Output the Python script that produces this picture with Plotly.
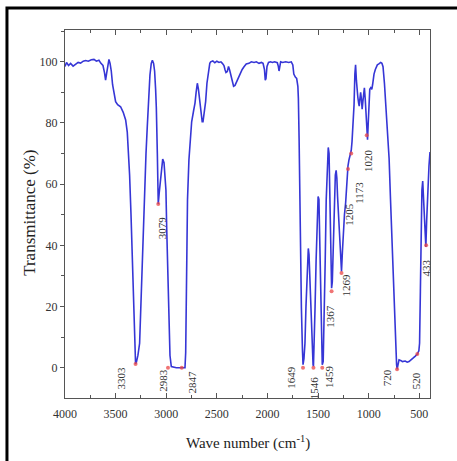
import plotly.graph_objects as go

# ---- data ----
wavenumber = [
    4000, 3985, 3965, 3945, 3920, 3895, 3870, 3846, 3820, 3796, 3770, 3740, 3714, 3690, 3665, 3645,
    3625, 3610, 3599, 3590, 3582, 3566, 3555, 3543, 3530, 3515, 3500, 3480, 3451, 3425, 3401, 3385,
    3370, 3362, 3348, 3335, 3320, 3312, 3303, 3295, 3280, 3263, 3250, 3236, 3225, 3213, 3200, 3187,
    3174, 3161, 3148, 3137, 3125, 3115, 3105, 3098, 3088, 3079, 3070, 3055, 3045, 3035, 3022, 3010,
    3003, 2995, 2989, 2975, 2963, 2950, 2900, 2850, 2815, 2808, 2800, 2790, 2776, 2762, 2749, 2730,
    2716, 2705, 2693, 2682, 2670, 2655, 2645, 2637, 2625, 2611, 2598, 2585, 2570, 2561, 2540, 2520,
    2500, 2479, 2460, 2446, 2430, 2420, 2410, 2397, 2385, 2374, 2360, 2347, 2335, 2321, 2305, 2290,
    2270, 2250, 2232, 2210, 2183, 2160, 2133, 2110, 2084, 2060, 2044, 2030, 2022, 2015, 2005, 1990,
    1970, 1952, 1930, 1903, 1893, 1886, 1878, 1870, 1850, 1820, 1790, 1765, 1750, 1740, 1725, 1712,
    1700, 1695, 1688, 1682, 1672, 1665, 1655, 1649, 1640, 1630, 1620, 1606, 1597, 1590, 1580, 1573,
    1562, 1550, 1546, 1538, 1530, 1520, 1510, 1500, 1492, 1485, 1475, 1465, 1459, 1450, 1440, 1430,
    1420, 1410, 1400, 1392, 1385, 1378, 1370, 1367, 1360, 1350, 1340, 1330, 1322, 1315, 1308, 1300,
    1290, 1280, 1269, 1260, 1250, 1240, 1228, 1220, 1210, 1205, 1195, 1185, 1178, 1173, 1165, 1155,
    1145, 1137, 1130, 1122, 1115, 1108, 1100, 1094, 1087, 1080, 1073, 1065, 1058, 1050, 1043, 1035,
    1028, 1020, 1012, 1005, 998, 990, 980, 970, 962, 955, 948, 935, 915, 900, 882, 870,
    859, 845, 832, 815, 799, 785, 766, 750, 740, 733, 725, 720, 712, 701, 680, 668,
    640, 620, 602, 580, 560, 540, 520, 505, 498, 490, 482, 475, 467, 460, 452, 444,
    436, 428, 418, 405, 395,
]
transmittance = [
    98.5, 99.8, 98.8, 99.5, 98.6, 99.2, 99.8, 99.6, 100.2, 100.4, 100.2, 100.7, 100.8, 100.2, 100.5, 99.5,
    98.8, 96.5, 94.0, 96.0, 98.0, 100.8, 99.5, 97.0, 92.5, 89.0, 87.0, 86.0, 85.3, 83.5, 81.0, 77.0,
    68.0, 63.0, 50.0, 36.0, 18.0, 8.5, 1.2, 1.8, 4.0, 8.0, 22.0, 35.0, 48.0, 60.0, 70.0, 79.0,
    88.0, 95.7, 99.5, 100.5, 99.5, 97.0, 91.0, 85.0, 70.0, 53.5, 57.0, 63.0, 67.0, 68.2, 67.0, 62.0,
    58.0, 45.0, 36.0, 15.0, 4.0, 0.4, 0.0, 0.0, 0.0, 5.0, 30.0, 55.0, 68.0, 76.0, 80.4, 84.0,
    86.5, 90.0, 93.0, 91.0, 87.0, 82.0, 80.4, 80.4, 83.0, 87.0, 93.0, 97.0, 99.5, 100.0, 100.3, 99.7,
    100.2, 99.8, 100.0, 99.5, 98.8, 97.5, 96.5, 96.8, 98.5, 97.3, 95.5, 93.5, 92.0, 92.3, 93.5, 94.8,
    96.0, 97.5, 98.4, 99.3, 99.5, 100.0, 99.8, 100.0, 99.5, 99.8, 99.5, 97.5, 94.0, 94.5, 98.5, 99.8,
    100.0, 99.8, 100.0, 99.7, 98.5, 97.0, 98.5, 100.0, 99.8, 100.0, 99.8, 100.0, 99.0, 96.0, 95.0, 94.6,
    92.0, 88.0, 75.0, 57.5, 35.0, 19.4, 6.0, 1.0, 3.0, 8.0, 20.0, 36.0, 39.0, 37.0, 28.0, 20.0,
    8.0, 1.0, 0.5, 8.0, 20.0, 35.0, 48.0, 56.0, 55.0, 45.0, 28.0, 12.0, 1.0, 2.0, 15.0, 35.0,
    55.0, 68.0, 72.0, 70.0, 60.0, 48.0, 34.0, 26.0, 28.0, 40.0, 55.0, 63.0, 64.5, 62.0, 56.0, 50.0,
    44.0, 38.0, 31.5, 38.0, 45.0, 50.0, 54.0, 60.0, 65.0, 66.0, 68.0, 69.5, 70.0, 71.0, 74.0, 80.0,
    86.0, 96.0, 99.0, 94.0, 90.0, 88.5, 86.5, 85.5, 88.0, 90.0, 88.0, 84.5, 87.0, 91.0, 91.5, 88.0,
    82.0, 77.0, 74.5, 80.0, 88.0, 91.0, 91.5, 91.0, 92.5, 95.0, 96.0, 97.5, 99.0, 99.3, 99.8, 99.5,
    98.4, 93.0, 86.0, 78.0, 68.4, 55.0, 36.0, 20.0, 10.0, 5.0, 1.0, -0.5, 1.5, 2.6, 2.3, 2.0,
    2.2, 1.8, 2.0, 2.5, 3.2, 3.8, 4.5, 5.5, 8.0, 25.0, 48.0, 58.0, 61.0, 57.0, 50.0, 44.0,
    39.5, 48.0, 58.0, 66.0, 70.5,
]

peak_wn = [3303, 3079, 2983, 2847, 1649, 1546, 1459, 1367, 1269, 1205, 1173, 1020, 720, 520, 433]
peak_T = [1.2, 53.5, 0.0, 0.0, 0.0, 0.0, 0.0, 25.0, 31.0, 65.0, 70.0, 76.0, -0.5, 4.5, 40.0]
peak_text = ["3303", "3079", "2983", "2847", "1649", "1546", "1459", "1367", "1269",
             "1205", "1173", "1020", "720", "520", "433"]

x_ticks = [4000, 3500, 3000, 2500, 2000, 1500, 1000, 500]
y_ticks = [0, 20, 40, 60, 80, 100]

# label offsets (pixels) relative to each peak marker
label_dx = [-15, 4, -5, 10, -12, 0, 6, -1, 4, 1, 7, 2, -10, -1, 0]
label_dy = [-14, -24, -12, -14, -10, -20, -9, -25, -12, -45, -39, -25, -9, -27, -23]

SERIF = "Liberation Serif, Times New Roman, serif"

fig = go.Figure()
fig.add_trace(go.Scatter(
    x=wavenumber, y=transmittance, mode="lines",
    line=dict(color="#3636d6", width=1.6), hoverinfo="skip", showlegend=False,
))
fig.add_trace(go.Scatter(
    x=peak_wn, y=peak_T, mode="markers",
    marker=dict(color="rgba(235,70,70,0.75)", size=4, symbol="circle"),
    hoverinfo="skip", showlegend=False,
))

for xv, yv, t, dx, dy in zip(peak_wn, peak_T, peak_text, label_dx, label_dy):
    fig.add_annotation(
        x=xv, y=yv, text=t, showarrow=False, textangle=-90,
        xanchor="center", yanchor="middle", xshift=dx, yshift=dy,
        font=dict(family=SERIF, size=11, color="#333333"),
    )

# axis titles
fig.add_annotation(
    xref="paper", yref="paper", x=0.5, y=-0.122, text="Wave number (cm<sup>-1</sup>)",
    showarrow=False, xanchor="center", yanchor="middle",
    font=dict(family=SERIF, size=15, color="#222222"),
)
fig.add_annotation(
    xref="paper", yref="paper", x=-0.096, y=0.503, text="Transmittance (%)",
    showarrow=False, textangle=-90, xanchor="center", yanchor="middle",
    font=dict(family=SERIF, size=17, color="#222222"),
)

# outer black frame (left and top edges visible)
fig.add_shape(
    type="rect", xref="paper", yref="paper",
    x0=-0.159, y0=-0.2, x1=1.1, y1=1.0598,
    line=dict(color="#000000", width=3), fillcolor="rgba(0,0,0,0)", layer="below",
)

fig.update_layout(
    width=457, height=461,
    margin=dict(l=65, r=27, t=30, b=63),
    paper_bgcolor="white", plot_bgcolor="white",
    font=dict(family=SERIF, size=12, color="#333333"),
    showlegend=False,
)
fig.update_xaxes(
    range=[4000, 395], tickvals=x_ticks, ticktext=[str(v) for v in x_ticks],
    ticks="inside", ticklen=5, tickcolor="#555555", tickwidth=1,
    minor=dict(dtick=250, ticks="inside", ticklen=3, tickcolor="#555555"),
    showline=True, linecolor="#555555", linewidth=1, mirror="ticks",
    showgrid=False, zeroline=False, ticklabelstandoff=5,
    tickfont=dict(family=SERIF, size=12, color="#333333"),
)
fig.update_yaxes(
    range=[-9.9, 110.4], tickvals=y_ticks, ticktext=[str(v) for v in y_ticks],
    ticks="outside", ticklen=4, tickcolor="#555555", tickwidth=1,
    minor=dict(dtick=10, ticks="outside", ticklen=3, tickcolor="#555555"),
    showline=True, linecolor="#555555", linewidth=1, mirror=True,
    showgrid=False, zeroline=False,
    tickfont=dict(family=SERIF, size=12, color="#333333"),
)

fig.write_html("out.html")
